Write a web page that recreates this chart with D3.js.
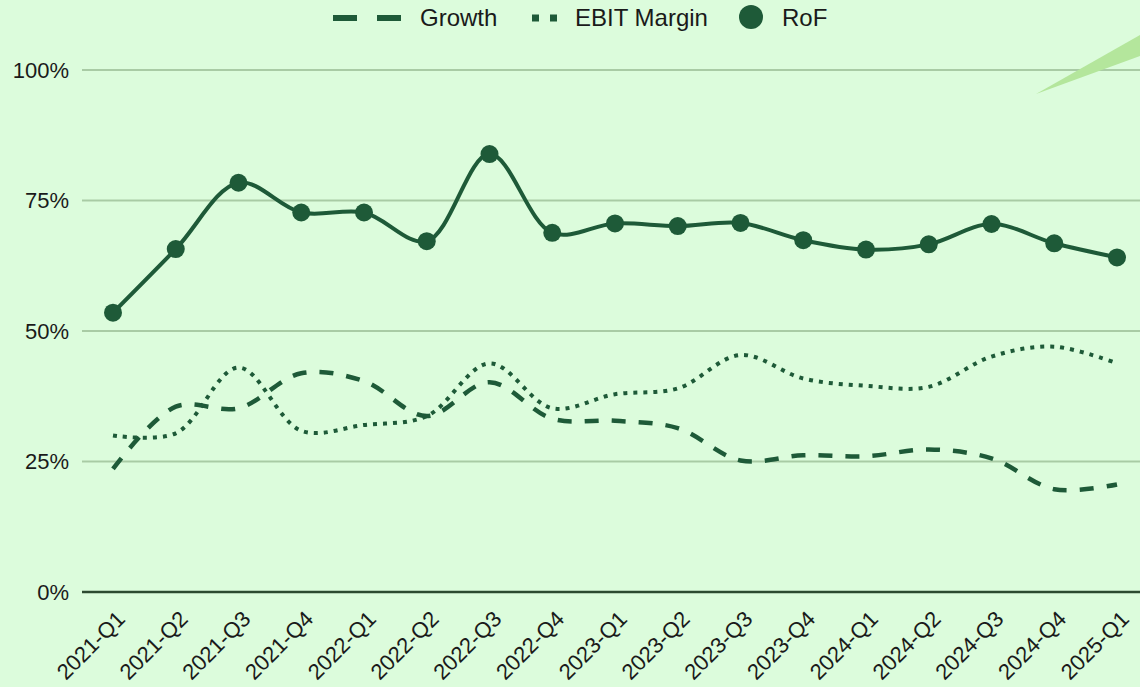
<!DOCTYPE html>
<html>
<head>
<meta charset="utf-8">
<script src="https://cdn.jsdelivr.net/npm/d3@7"></script>
<style>
  html, body { margin: 0; padding: 0; background: #dcfcdc; }
  svg { display: block; font-family: "Liberation Sans", Arial, sans-serif; }
</style>
</head>
<body>
<script>
var quarters = ['2021-Q1', '2021-Q2', '2021-Q3', '2021-Q4', '2022-Q1', '2022-Q2', '2022-Q3', '2022-Q4',
  '2023-Q1', '2023-Q2', '2023-Q3', '2023-Q4', '2024-Q1', '2024-Q2', '2024-Q3', '2024-Q4', '2025-Q1']
var growth = [0.236, 0.355, 0.352, 0.419, 0.404, 0.337, 0.402, 0.332,
  0.328, 0.314, 0.252, 0.262, 0.260, 0.273, 0.256, 0.197, 0.206]
var ebitMargin = [0.300, 0.304, 0.430, 0.309, 0.320, 0.337, 0.438, 0.352,
  0.379, 0.390, 0.454, 0.409, 0.395, 0.393, 0.451, 0.470, 0.438]
var rof = [0.535, 0.657, 0.784, 0.727, 0.727, 0.672, 0.839, 0.688,
  0.706, 0.701, 0.707, 0.674, 0.656, 0.666, 0.705, 0.668, 0.641]
var yTicks = [0, 0.25, 0.5, 0.75, 1]

var width = 1140
var height = 687
var dark = '#1e5a38'

var svg = d3.select('body').append('svg')
  .attr('width', width)
  .attr('height', height)

svg.append('rect')
  .attr('width', width)
  .attr('height', height)
  .attr('fill', '#dcfcdc')

var x = d3.scalePoint()
  .domain(quarters)
  .range([113, 1117])

var y = d3.scaleLinear()
  .domain([0, 1])
  .range([592, 70])

// gridlines
svg.append('g')
  .selectAll('line')
  .data(yTicks.filter(function (d) { return d > 0 }))
  .enter().append('line')
  .attr('x1', 82)
  .attr('x2', width)
  .attr('y1', function (d) { return y(d) })
  .attr('y2', function (d) { return y(d) })
  .attr('stroke', '#a9cba5')
  .attr('stroke-width', 2)

// decoration wedge top right
svg.append('path')
  .attr('d', 'M1036,94 L1140,35 L1140,56 Z')
  .attr('fill', '#b4e69c')

// y labels
svg.append('g')
  .selectAll('text')
  .data(yTicks)
  .enter().append('text')
  .attr('x', 69)
  .attr('y', function (d) { return y(d) })
  .attr('dy', '0.35em')
  .attr('text-anchor', 'end')
  .attr('font-size', 22)
  .attr('fill', '#1a1a1a')
  .text(d3.format('.0%'))

// baseline
svg.append('line')
  .attr('x1', 82)
  .attr('x2', width)
  .attr('y1', y(0))
  .attr('y2', y(0))
  .attr('stroke', '#2c4a30')
  .attr('stroke-width', 2.5)

// x labels
svg.append('g')
  .selectAll('text')
  .data(quarters)
  .enter().append('text')
  .attr('transform', function (d) { return 'translate(' + (x(d) + 8) + ',615) rotate(-45)' })
  .attr('dy', '0.35em')
  .attr('text-anchor', 'end')
  .attr('font-size', 22)
  .attr('fill', '#1a1a1a')
  .text(function (d) { return d })

var curve = d3.curveCatmullRom.alpha(0.5)

function lineFor (values) {
  return d3.line()
    .x(function (d, i) { return x(quarters[i]) })
    .y(function (d) { return y(d) })
    .curve(curve)(values)
}

svg.append('path')
  .attr('d', lineFor(growth))
  .attr('fill', 'none')
  .attr('stroke', dark)
  .attr('stroke-width', 4.5)
  .attr('stroke-dasharray', '14,13')

svg.append('path')
  .attr('d', lineFor(ebitMargin))
  .attr('fill', 'none')
  .attr('stroke', dark)
  .attr('stroke-width', 4)
  .attr('stroke-dasharray', '4,6')

svg.append('path')
  .attr('d', lineFor(rof))
  .attr('fill', 'none')
  .attr('stroke', dark)
  .attr('stroke-width', 4)

svg.append('g')
  .selectAll('circle')
  .data(rof)
  .enter().append('circle')
  .attr('cx', function (d, i) { return x(quarters[i]) })
  .attr('cy', function (d) { return y(d) })
  .attr('r', 9)
  .attr('fill', dark)

// legend
var legend = svg.append('g').attr('font-size', 24).attr('fill', '#1a1a1a')

legend.append('line')
  .attr('x1', 333).attr('x2', 403)
  .attr('y1', 18).attr('y2', 18)
  .attr('stroke', dark)
  .attr('stroke-width', 6)
  .attr('stroke-dasharray', '24,20')
legend.append('text').attr('x', 420).attr('y', 26).text('Growth')

legend.append('line')
  .attr('x1', 532).attr('x2', 557)
  .attr('y1', 18).attr('y2', 18)
  .attr('stroke', dark)
  .attr('stroke-width', 7)
  .attr('stroke-dasharray', '7,11')
legend.append('text').attr('x', 575).attr('y', 26).text('EBIT Margin')

legend.append('circle')
  .attr('cx', 751).attr('cy', 17)
  .attr('r', 12)
  .attr('fill', dark)
legend.append('text').attr('x', 782).attr('y', 26).text('RoF')
</script>
</body>
</html>
